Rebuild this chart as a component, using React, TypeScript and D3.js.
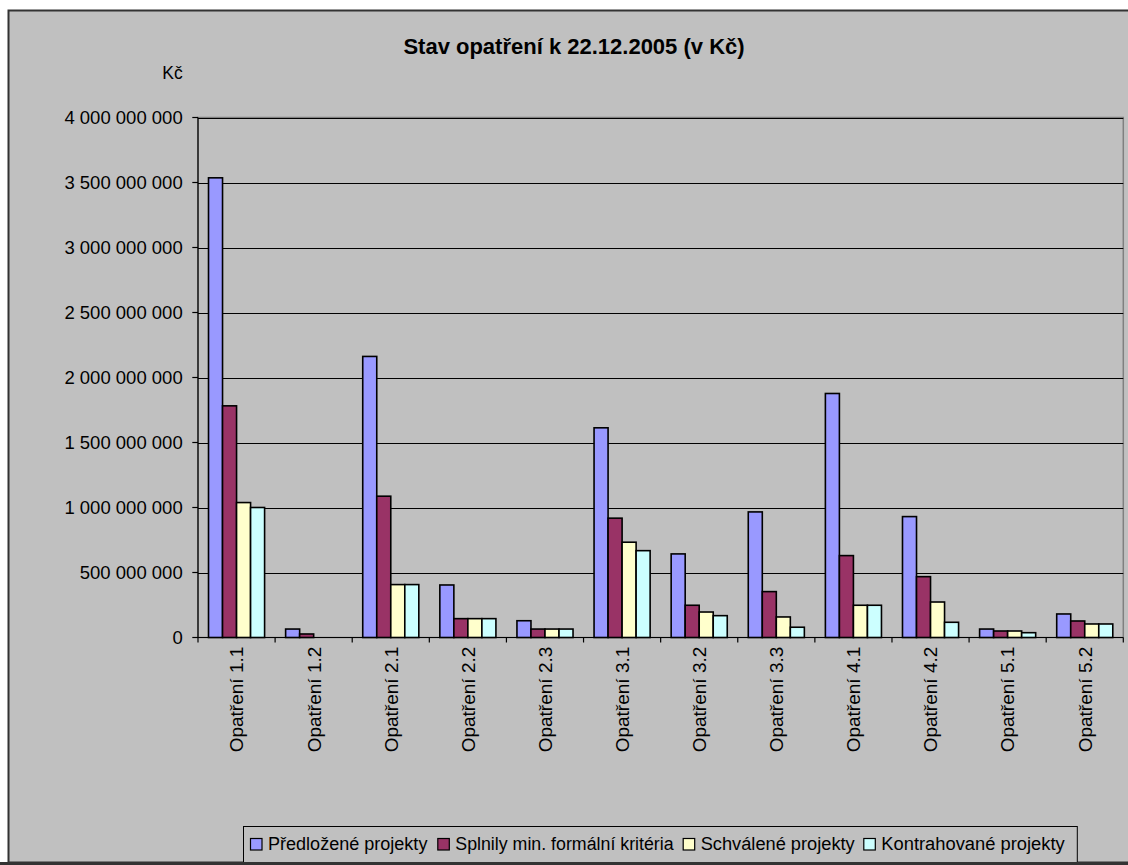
import React from "react";
import * as d3 from "d3";

const categories = [
  "Opatření 1.1", "Opatření 1.2", "Opatření 2.1", "Opatření 2.2", "Opatření 2.3", "Opatření 3.1",
  "Opatření 3.2", "Opatření 3.3", "Opatření 4.1", "Opatření 4.2", "Opatření 5.1", "Opatření 5.2",
];
const seriesNames = [
  "Předložené projekty",
  "Splnily min. formální kritéria",
  "Schválené projekty",
  "Kontrahované projekty",
];
const seriesColors = ["#9999FF", "#993366", "#FFFFCC", "#CCFFFF"];
const predlozene = [3536e6, 65e6, 2162e6, 404e6, 129e6, 1613e6, 643e6, 966e6, 1877e6, 930e6, 65e6, 181e6];
const splnily = [1782e6, 27e6, 1087e6, 145e6, 65e6, 918e6, 248e6, 353e6, 630e6, 468e6, 50e6, 127e6];
const schvalene = [1038e6, 0, 407e6, 145e6, 65e6, 733e6, 196e6, 158e6, 248e6, 273e6, 50e6, 104e6];
const kontrahovane = [1000e6, 0, 407e6, 145e6, 65e6, 668e6, 168e6, 79e6, 248e6, 117e6, 37e6, 104e6];
const yTicks = [0, 500e6, 1000e6, 1500e6, 2000e6, 2500e6, 3000e6, 3500e6, 4000e6];
const title = "Stav opatření k 22.12.2005 (v Kč)";
const yUnit = "Kč";

const seriesValues = [predlozene, splnily, schvalene, kontrahovane];
const FONT = "'Liberation Sans', Arial, sans-serif";

const locale = d3.formatLocale({ thousands: " ", grouping: [3], decimal: ",", currency: ["", ""] });
const fmt = locale.format(",");

export default function App() {
  const W = 1128, H = 865;
  const left = 198, right = 1123.3, top = 117.5, bottom = 637.5;
  const x0 = d3.scaleBand<string>().domain(categories).range([left, right]).padding(0);
  const x1 = d3.scaleBand<string>().domain(seriesNames).range([0, x0.bandwidth()]).paddingInner(0).paddingOuter(0.75);
  const y = d3.scaleLinear().domain([0, 4000e6]).range([bottom, top]);

  const legendMarkers = [250, 437.3, 682.7, 863.3];
  const legendWidths = [159.4, 218.3, 154, 183.4];

  return (
    <svg width={W} height={H} style={{ position: "absolute", left: 0, top: 0, background: "#fff" }} fontFamily={FONT}>
      <rect x={8.5} y={10.5} width={W + 10} height={852} fill="#C0C0C0" stroke="#333" strokeWidth={2} />
      <text x={574} y={54} textAnchor="middle" fontSize={22} fontWeight="bold" fill="#000">{title}</text>
      <text x={182.7} y={79} textAnchor="end" fontSize={17.5} fill="#000">{yUnit}</text>

      {/* plot area */}
      <rect x={left} y={top} width={right - left} height={bottom - top} fill="#C0C0C0" stroke="#808080" strokeWidth={1.5} />
      {yTicks.filter(t => t > 0).map(t => (
        <line key={t} x1={left} x2={right} y1={Math.round(y(t)) + 0.5} y2={Math.round(y(t)) + 0.5} stroke="#000" strokeWidth={1} />
      ))}

      {/* bars */}
      {categories.map((c, i) => (
        <g key={c}>
          {seriesNames.map((s, j) => {
            const v = seriesValues[j][i];
            if (v <= 0) return null;
            return (
              <rect key={s} x={(x0(c) as number) + (x1(s) as number)} y={y(v)} width={x1.bandwidth()} height={bottom - y(v)}
                fill={seriesColors[j]} stroke="#000" strokeWidth={1.6} />
            );
          })}
        </g>
      ))}

      {/* axes */}
      <line x1={left} x2={left} y1={top} y2={bottom} stroke="#000" strokeWidth={1.2} />
      <line x1={left} x2={right} y1={bottom} y2={bottom} stroke="#000" strokeWidth={1.2} />
      {yTicks.map(t => (
        <g key={t}>
          <line x1={192.3} x2={left} y1={y(t)} y2={y(t)} stroke="#000" strokeWidth={1.2} />
          <text x={182.7} y={y(t)} dy="0.36em" textAnchor="end" fontSize={18.5} fill="#000">{fmt(t)}</text>
        </g>
      ))}
      {[...categories.map(c => x0(c) as number), right].map((xv, i) => (
        <line key={i} x1={xv} x2={xv} y1={bottom} y2={bottom + 5} stroke="#000" strokeWidth={1.2} />
      ))}
      {categories.map(c => {
        const cx = (x0(c) as number) + x0.bandwidth() / 2;
        const ty = 646.7;
        return (
          <text key={c} transform={`translate(${cx},${ty}) rotate(-90)`} textAnchor="end" dy="0.36em" fontSize={19} fill="#000">{c}</text>
        );
      })}

      {/* legend */}
      <rect x={243.5} y={826.5} width={1077.3 - 243.5} height={40} fill="#C0C0C0" stroke="#000" strokeWidth={1} />
      {seriesNames.map((s, j) => (
        <g key={s}>
          <rect x={legendMarkers[j] + 0.5} y={838.5} width={11.5} height={11.5} fill={seriesColors[j]} stroke="#000" strokeWidth={1.2} />
          <text x={legendMarkers[j] + 18} y={849.5} fontSize={18} fill="#000" textLength={legendWidths[j]} lengthAdjust="spacingAndGlyphs">{s}</text>
        </g>
      ))}
      <line x1={0} x2={W} y1={863.5} y2={863.5} stroke="#333" strokeWidth={3} />
    </svg>
  );
}
